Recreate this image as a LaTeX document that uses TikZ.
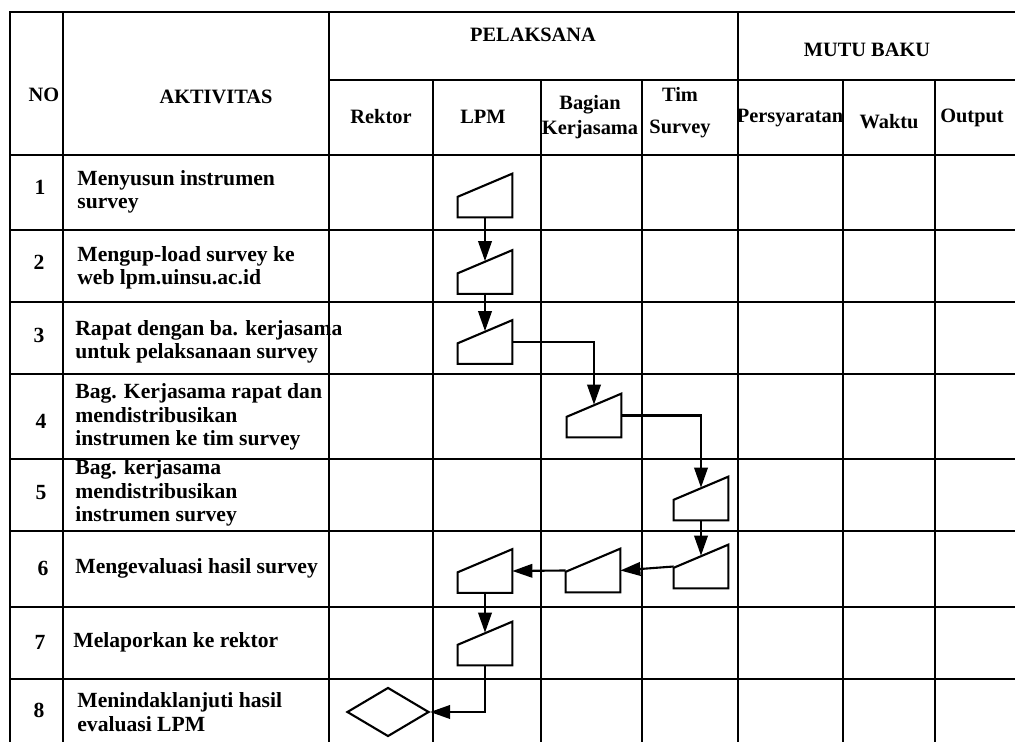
\documentclass[tikz,border=0pt]{standalone}
\usepackage{fontspec}
\setmainfont{Liberation Serif}
\usetikzlibrary{calc,arrows.meta,shapes.geometric}

\begin{document}
\begin{tikzpicture}
[
x=0.02cm, y=-0.02cm,
grid/.style={line width=1.5pt},
every node/.style={font=\bfseries\fontsize{12.3}{13.4}\selectfont},
txt/.style={anchor=west, align=left, inner sep=0pt},
num/.style={inner sep=0pt},
head/.style={align=center, inner sep=0pt, font=\bfseries\fontsize{11.6}{13.4}\selectfont},
manin/.style={minimum width=1.08cm, minimum height=0.86cm, inner sep=0pt},
putusan/.style={diamond, draw, line width=1.2pt, minimum width=1.64cm, minimum height=0.98cm, inner sep=0pt},
flow/.style={line width=1.2pt, -{Triangle[length=4mm,width=2.7mm]}}
]
\useasboundingbox (0,0) rectangle (1015,742);

% table
\draw[grid] (10,742) -- (10,12) -- (1015,12);
\draw[grid] (329,80) -- (1015,80);
\foreach \y in {155,230,302,374,459,531,607,679}
	\draw[grid] (10,\y) -- (1015,\y);
\foreach \x in {63,329,738}
	\draw[grid] (\x,12) -- (\x,742);
\foreach \x in {433,541,642,843,935}
	\draw[grid] (\x,80) -- (\x,742);

% header
\node[head] (hno) at (44,95) {NO};
\node[head] (hakt) at (216,97) {AKTIVITAS};
\node[head] (hpel) at (533,35) {PELAKSANA};
\node[head] (hmutu) at (867,50) {MUTU BAKU};
\node[head] (hrektor) at (381,117) {Rektor};
\node[head] (hlpm) at (483,117) {LPM};
\node[head, anchor=base] (hbag) at (590,110) {Bagian};
\node[head, anchor=base] (hkerja) at (590,135) {Kerjasama};
\node[head, anchor=base] (htim) at (680,102) {Tim};
\node[head, anchor=base] (hsurvey) at (680,134) {Survey};
\node[head] (hsyarat) at (790,118) {Persyaratan};
\node[head] (hwaktu) at (889,122) {Waktu};
\node[head] (houtput) at (972,118) {Output};

% rows
\node[num] (n1) at (40,187) {1};
\node[num] (n2) at (39,262) {2};
\node[num] (n3) at (39,335) {3};
\node[num] (n4) at (41,421) {4};
\node[num] (n5) at (41,493) {5};
\node[num] (n6) at (43,568) {6};
\node[num] (n7) at (40,642) {7};
\node[num] (n8) at (39,710) {8};

\node[txt] (a1) at (77,192) {Menyusun instrumen\\survey};
\node[txt] (a2) at (77,268) {Mengup-load survey ke\\web lpm.uinsu.ac.id};
\node[txt] (a3) at (75,342) {Rapat dengan ba. kerjasama\\untuk pelaksanaan survey};
\node[txt] (a4) at (75,417) {Bag. Kerjasama rapat dan\\mendistribusikan\\instrumen ke tim survey};
\node[txt] (a5) at (75,493) {Bag. kerjasama\\mendistribusikan\\instrumen survey};
\node[txt] (a6) at (75,568) {Mengevaluasi hasil survey};
\node[txt] (a7) at (73,642) {Melaporkan ke rektor};
\node[txt] (a8) at (77,712) {Menindaklanjuti hasil\\evaluasi LPM};

% flow
\node[manin] (lpm1) at (485,195.5) {};
\node[manin] (lpm2) at (485,272) {};
\node[manin] (lpm3) at (485,342) {};
\node[manin] (bag4) at (594,415.5) {};
\node[manin] (tim5) at (701,498.5) {};
\node[manin] (tim6) at (701,566.5) {};
\node[manin] (bag6) at (593,570.5) {};
\node[manin] (lpm6) at (485,571) {};
\node[manin] (lpm7) at (485,643.5) {};
\node[putusan] (rek8) at (388,712) {};

\foreach \n in {lpm1,lpm2,lpm3,bag4,tim5,tim6,bag6,lpm6,lpm7}
{
	\draw[line width=1.2pt] (\n.south west) -- ($(\n.south west)!0.47!(\n.north west)$)
		-- (\n.north east) -- (\n.south east) -- cycle;
	\coordinate (\n top) at ($(\n.north)+(0,11)$);
}

\draw[flow] (lpm1.south) -- (lpm2top);
\draw[flow] (lpm2.south) -- (lpm3top);
\draw[flow] (lpm3.east) -| (bag4top);
\draw[flow] (bag4.east) -| (tim5top);
\draw[flow] (tim5.south) -- (tim6top);
\draw[flow] (tim6.west) -- (bag6.east);
\draw[flow] (bag6.west) -- (lpm6.east);
\draw[flow] (lpm6.south) -- (lpm7top);
\draw[flow] (lpm7.south) |- (rek8.east);
\end{tikzpicture}
\end{document}
